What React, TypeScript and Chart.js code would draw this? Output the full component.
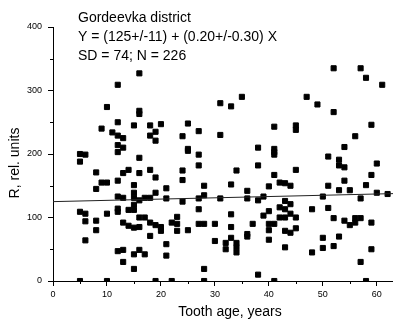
import React, { useEffect, useRef } from "react";
import { Chart, registerables } from "chart.js";

Chart.register(...registerables);

// Tooth age (years) for each observation
const ages: number[] = [
  5, 6, 5, 8, 8, 9, 10, 12, 13, 12, 16, 12, 14, 13, 16, 15, 18, 19, 19, 12, 13, 15, 15, 16, 17, 18,
  5, 6, 10, 12, 12, 14, 15, 15, 6, 8, 8, 6, 16, 17, 13, 14, 15, 16, 18, 19, 18, 12, 13, 16, 15, 17,
  13, 15, 5, 10, 19, 19,
  16, 12, 10, 16, 16, 12, 9, 11, 15, 18, 19, 12, 13,
  31, 33, 35, 20, 25, 27, 31, 24, 18, 25, 38,
  25, 27, 27, 38, 24, 24, 34, 28, 33, 21, 36, 28, 40, 21, 24, 27, 31, 36, 38, 39, 27, 33, 40, 39,
  23, 20, 20, 22, 23, 23, 25, 27, 28, 30, 33, 33, 37, 36, 36, 40, 40, 30, 32, 32, 34, 34, 34, 21,
  21, 28, 38, 22, 28,
  52, 57, 58, 61, 47, 49, 52, 41, 45, 45, 59, 56, 54, 41,
  41, 41, 51, 53, 53, 54, 60, 45, 41, 59, 54, 42, 43, 44, 51, 58, 53, 55, 60, 62, 50, 57, 43, 44,
  43, 42, 48, 51, 44, 45, 42, 43, 52, 54, 55, 56, 56, 57, 59, 40, 41, 43, 44, 45, 50, 50, 53, 43,
  48, 52, 59, 57, 41, 58,
];

// R, rel. units for each observation
const rValues: number[] = [
  200, 199, 188, 171, 145, 155, 155, 214, 210, 203, 194, 158, 175, 170, 170, 151, 175, 163, 139, 133, 131, 139, 131, 127, 131, 131,
  109, 106, 106, 114, 109, 112, 112, 120, 94, 95, 80, 64, 100, 100, 92, 87, 84, 85, 92, 88, 71, 47, 49, 49, 42, 42,
  30, 19, 0, 0, 0, 221,
  327, 309, 274, 268, 263, 250, 240, 234, 245, 245, 235, 229, 225,
  280, 275, 290, 247, 248, 236, 230, 228, 229, 208, 210,
  205, 199, 182, 182, 174, 159, 174, 150, 152, 146, 142, 135, 149, 130, 125, 130, 130, 130, 127, 133, 113, 105, 110, 103,
  101, 85, 79, 92, 90, 79, 80, 90, 90, 90, 85, 68, 90, 74, 70, 80, 65, 63, 60, 50, 60, 53, 45, 58,
  40, 19, 10, 0, 0,
  335, 335, 320, 309, 290, 278, 266, 243, 245, 238, 246, 228, 211, 208,
  203, 199, 196, 191, 182, 179, 185, 175, 167, 167, 158, 155, 154, 150, 150, 151, 143, 143, 139, 137, 133, 130, 126, 121,
  113, 116, 113, 115, 106, 100, 100, 100, 99, 95, 88, 92, 99, 99, 92, 90, 90, 79, 76, 83, 68, 52, 70, 53,
  45, 55, 50, 30, 0, 0,
];

// Linear fit: Y = A + B X
const fitA = 125;
const fitB = 0.2;
const fitX: number[] = [0, 63];

const xTicks: number[] = [0, 10, 20, 30, 40, 50, 60];
const yTicks: number[] = [0, 100, 200, 300, 400];
const xMinor: number[] = [5, 15, 25, 35, 45, 55];
const yMinor: number[] = [50, 150, 250, 350];

const annotation: string[] = [
  "Gordeevka district",
  "Y = (125+/-11) + (0.20+/-0.30) X",
  "SD = 74; N = 226",
];
const xTitle = "Tooth age, years";
const yTitle = "R, rel. units";

const FONT = "'Liberation Sans', Arial, sans-serif";

const decorPlugin = {
  id: "decor",
  afterDraw(chart: any) {
    const ctx = chart.ctx;
    const xs = chart.scales.x;
    const ys = chart.scales.y;
    const area = chart.chartArea;
    ctx.save();
    ctx.strokeStyle = "#000";
    ctx.lineWidth = 1;
    ctx.beginPath();
    xMinor.forEach((v) => {
      const px = Math.round(xs.getPixelForValue(v)) + 0.5;
      ctx.moveTo(px, area.bottom);
      ctx.lineTo(px, area.bottom + 3);
    });
    yMinor.forEach((v) => {
      const py = Math.round(ys.getPixelForValue(v)) + 0.5;
      ctx.moveTo(area.left, py);
      ctx.lineTo(area.left - 3, py);
    });
    ctx.stroke();

    ctx.fillStyle = "#000";
    ctx.font = `14px ${FONT}`;
    ctx.textAlign = "left";
    ctx.textBaseline = "alphabetic";
    const baselines = [22, 41, 60];
    annotation.forEach((t, i) => ctx.fillText(t, 78, baselines[i]));

    ctx.textAlign = "center";
    ctx.fillText(xTitle, 230, 316);

    ctx.translate(19, 163);
    ctx.rotate(-Math.PI / 2);
    ctx.fillText(yTitle, 0, 0);
    ctx.restore();
  },
};

export default function App() {
  const ref = useRef<HTMLCanvasElement | null>(null);

  useEffect(() => {
    document.body.style.margin = "0";
    const points = ages.map((a, i) => ({ x: a, y: rValues[i] }));
    const fit = fitX.map((x) => ({ x, y: fitA + fitB * x }));
    const chart = new Chart(ref.current as HTMLCanvasElement, {
      type: "scatter",
      data: {
        datasets: [
          {
            type: "line",
            data: fit,
            borderColor: "#222",
            borderWidth: 1,
            pointRadius: 0,
            fill: false,
          } as any,
          {
            data: points,
            backgroundColor: "#000",
            borderColor: "#000",
            borderWidth: 1,
            pointStyle: "rect",
            pointRadius: 3.6,
            pointHoverRadius: 3.6,
          },
        ],
      },
      options: {
        responsive: false,
        animation: false,
        events: [],
        layout: { autoPadding: false, padding: { top: 27, right: 0, left: 0, bottom: 0 } },
        plugins: { legend: { display: false }, tooltip: { enabled: false } },
        scales: {
          x: {
            type: "linear",
            min: 0,
            max: 63,
            afterBuildTicks: (s: any) => {
              s.ticks = xTicks.map((v) => ({ value: v }));
            },
            afterFit: (s: any) => {
              s.height = 39;
              s.paddingRight = 0;
              s.paddingLeft = 0;
            },
            grid: {
              drawOnChartArea: false,
              drawTicks: true,
              tickLength: 5,
              tickColor: "#000",
              color: "#000",
            },
            border: { display: true, color: "#000", width: 1 },
            ticks: {
              color: "#000",
              font: { family: FONT, size: 9 },
              padding: 3,
              maxRotation: 0,
            },
          },
          y: {
            type: "linear",
            min: 0,
            max: 400,
            afterBuildTicks: (s: any) => {
              s.ticks = yTicks.map((v) => ({ value: v }));
            },
            afterFit: (s: any) => {
              s.width = 53;
            },
            grid: {
              drawOnChartArea: false,
              drawTicks: true,
              tickLength: 5,
              tickColor: "#000",
              color: "#000",
            },
            border: { display: true, color: "#000", width: 1 },
            ticks: {
              color: "#000",
              font: { family: FONT, size: 9 },
              padding: 6,
            },
          },
        },
      },
      plugins: [decorPlugin],
    });
    return () => chart.destroy();
  }, []);

  return <canvas ref={ref} width={393} height={320} style={{ display: "block" }} />;
}
